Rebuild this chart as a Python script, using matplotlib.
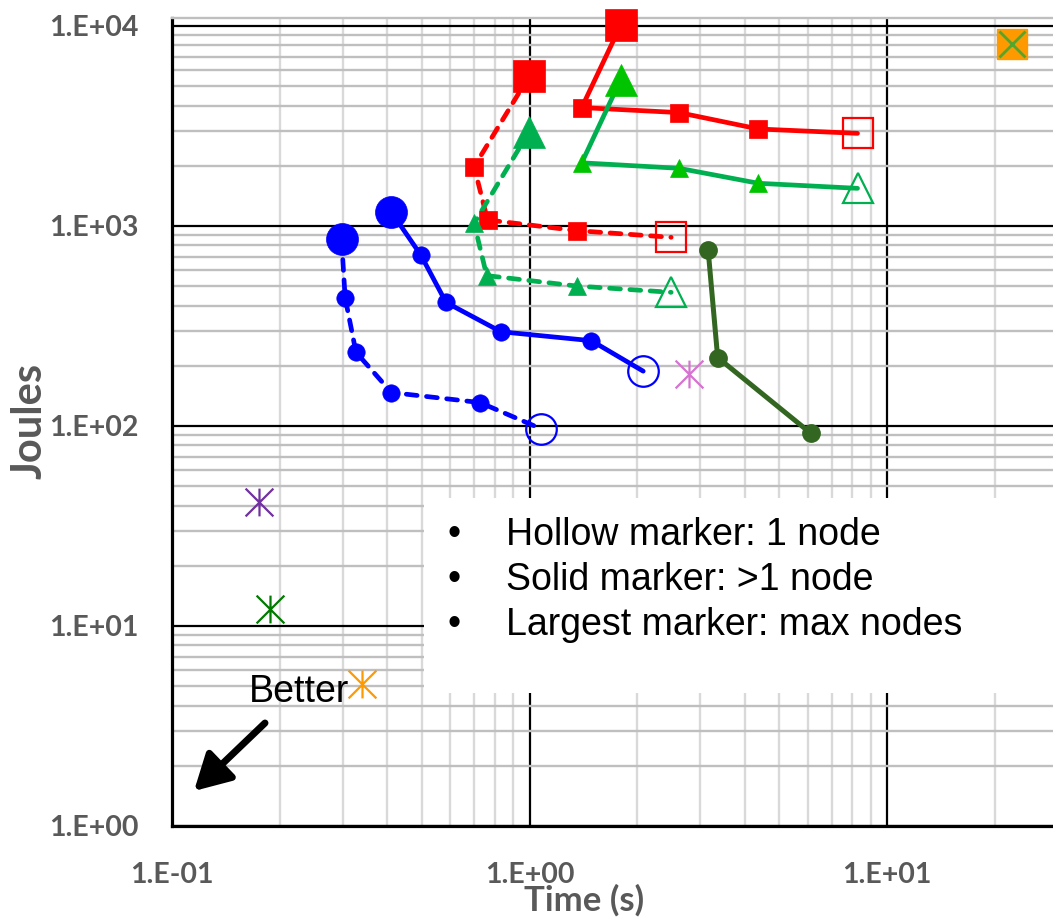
import math
import matplotlib
matplotlib.use("Agg")
import matplotlib.pyplot as plt
from matplotlib.path import Path
from matplotlib.patches import Rectangle
from matplotlib.ticker import LogLocator, FuncFormatter, NullFormatter

# ---- data (time in s, energy in J) ----
# each run series: first point = max nodes, last point = 1 node
blue_solid_t = [0.410, 0.497, 0.584, 0.832, 1.49, 2.08]
blue_solid_j = [1180, 714, 415, 296, 267, 188]
blue_dash_t = [0.298, 0.305, 0.327, 0.411, 0.727, 1.075]
blue_dash_j = [858, 438, 234, 147, 131, 97]
red_solid_t = [1.80, 1.40, 2.62, 4.37, 8.27]
red_solid_j = [10100, 3910, 3690, 3055, 2906]
red_dash_t = [0.998, 0.700, 0.763, 1.356, 2.49]
red_dash_j = [5620, 1980, 1072, 948, 878]
green_solid_t = [1.80, 1.40, 2.62, 4.37, 8.27]
green_solid_j = [5400, 2070, 1943, 1635, 1543]
green_dash_t = [0.998, 0.700, 0.759, 1.356, 2.49]
green_dash_j = [2963, 1031, 565, 501, 466]
olive_t = [3.16, 3.36, 6.12]
olive_j = [759, 220, 92]

# single-point results
star_t = [0.1754, 0.188, 0.340, 2.80]
star_j = [41.8, 12.2, 5.11, 182]
star_colors = ["#7030A0", "#007A00", "#FF9900", "#D672D0"]
box_t = [22.4]
box_j = [8100]

notes = ["Hollow marker: 1 node", "Solid marker: >1 node", "Largest marker: max nodes"]

W, H = 1053, 917
fig = plt.figure(figsize=(W / 100, H / 100), dpi=100)
ax = fig.add_axes([172 / W, (H - 826) / H, (W - 172) / W, (826 - 18) / H])
ax.set_xscale("log")
ax.set_yscale("log")
ax.set_xlim(0.1, 10 ** (1 + 166 / 357.5))
ax.set_ylim(1, 10 ** 4.04)

ax.set_axisbelow(True)
ax.xaxis.set_major_locator(LogLocator(base=10, numticks=10))
ax.yaxis.set_major_locator(LogLocator(base=10, numticks=10))
ax.xaxis.set_minor_locator(LogLocator(base=10, subs=range(2, 10), numticks=20))
ax.yaxis.set_minor_locator(LogLocator(base=10, subs=range(2, 10), numticks=20))
ax.xaxis.set_minor_formatter(NullFormatter())
ax.yaxis.set_minor_formatter(NullFormatter())
sci = FuncFormatter(lambda v, p: "1.E%+03d" % round(math.log10(v)))
ax.xaxis.set_major_formatter(sci)
ax.yaxis.set_major_formatter(sci)

ax.yaxis.grid(True, which="minor", color="#bfbfbf", lw=1.7)
ax.xaxis.grid(True, which="minor", color="#d9d9d9", lw=1.7)
ax.grid(True, which="major", color="black", lw=1.6)

for s in ["left", "bottom"]:
    ax.spines[s].set_linewidth(2.3)
    ax.spines[s].set_color("black")
ax.spines["top"].set_color("#bfbfbf")
ax.spines["top"].set_linewidth(1.7)
ax.spines["right"].set_visible(False)

ax.tick_params(which="both", length=0)
ax.tick_params(axis="y", pad=24)
ax.tick_params(axis="x", pad=26)
for lab in ax.get_xticklabels() + ax.get_yticklabels():
    lab.set_fontfamily("Lato")
    lab.set_fontweight("bold")
    lab.set_fontsize(20.5)
    lab.set_color("#595959")

# white note box
ax.add_patch(Rectangle((0.286, 0.1646), 0.714, 0.2414, transform=ax.transAxes,
                       facecolor="white", edgecolor="none", zorder=1))

dash = (0, (2.3, 2.0))


def run_series(xs, ys, color, ls, marker, fill=None):
    fill = fill or color
    ax.plot(xs, ys, color=color, ls=ls, lw=3.4, dash_capstyle="round",
            solid_capstyle="round", zorder=3, clip_on=False)
    ax.plot(xs[:1], ys[:1], ls="none", marker=marker, ms=23, mfc=fill, mec=fill,
            mew=0.5, zorder=4, clip_on=False)
    ax.plot(xs[1:-1], ys[1:-1], ls="none", marker=marker, ms=12.5, mfc=fill,
            mec=fill, mew=0.5, zorder=4, clip_on=False)
    ax.plot(xs[-1:], ys[-1:], ls="none", marker=marker, ms=22, mfc="none",
            mec=color, mew=1.6, zorder=4, clip_on=False)


run_series(blue_solid_t, blue_solid_j, "#0000FF", "-", "o")
run_series(blue_dash_t, blue_dash_j, "#0000FF", dash, "o")
run_series(red_solid_t, red_solid_j, "#FF0000", "-", "s")
run_series(red_dash_t, red_dash_j, "#FF0000", dash, "s")
run_series(green_solid_t, green_solid_j, "#00B050", "-", "^", fill="#00C400")
run_series(green_dash_t, green_dash_j, "#00B050", dash, "^")

ax.plot(olive_t, olive_j, color="#336621", lw=3.6, marker="o", ms=12.5,
        zorder=3, clip_on=False)

asterisk = Path([(-1, -1), (1, 1), (-1, 1), (1, -1), (0, -1), (0, 1)],
                [Path.MOVETO, Path.LINETO, Path.MOVETO, Path.LINETO,
                 Path.MOVETO, Path.LINETO])
for t, j, c in zip(star_t, star_j, star_colors):
    ax.plot([t], [j], ls="none", marker=asterisk, ms=20, mec=c, mfc="none",
            mew=1.6, zorder=4, clip_on=False)

ax.plot(box_t, box_j, ls="none", marker="s", ms=21.5, mfc="#FF9900",
        mec="#FF9900", zorder=4, clip_on=False)
ax.plot(box_t, box_j, ls="none", marker="x", ms=19, mec="#4EA72E", mew=2,
        zorder=5, clip_on=False)

# notes text
for i, line in enumerate(notes):
    yb = H - (545 + 45 * i)
    fig.text(454 / W, yb / H, "\u2022", ha="center", va="baseline",
             family="Liberation Sans", fontsize=27)
    fig.text(506 / W, yb / H, line, ha="left", va="baseline",
             family="Liberation Sans", fontsize=27)

fig.text(249 / W, (H - 702) / H, "Better", ha="left", va="baseline",
         family="Liberation Sans", fontsize=27)
ax.annotate("", xy=(194, H - 791), xytext=(265, H - 723), xycoords="figure pixels",
            textcoords="figure pixels",
            arrowprops=dict(arrowstyle="-|>,head_length=0.9,head_width=0.5",
                            lw=5, color="black", mutation_scale=24,
                            shrinkA=0, shrinkB=0))

lab_font = dict(family="Lato", weight="bold", color="#595959")
fig.text(30 / W, (H - 421) / H, "Joules", rotation=90, ha="center", va="center",
         fontsize=30, **lab_font)
fig.text(584 / W, 0.5 / H, "Time (s)", ha="center", va="bottom",
         fontsize=25, **lab_font)

fig.savefig("out.png", dpi=100)
